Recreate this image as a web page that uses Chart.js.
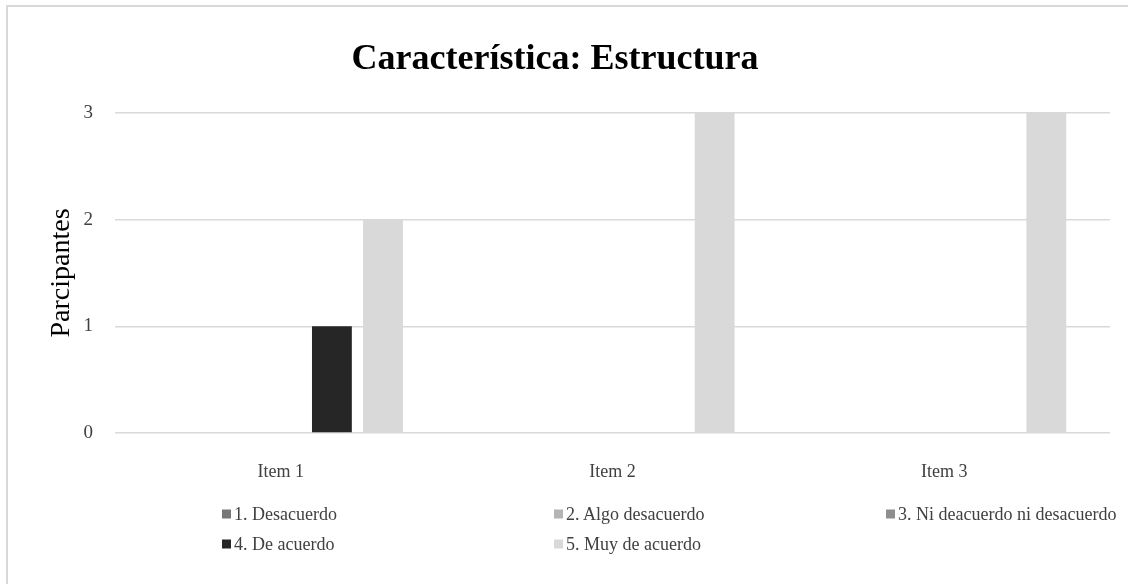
<!DOCTYPE html>
<html>
<head>
<meta charset="utf-8">
<script src="https://cdn.jsdelivr.net/npm/chart.js@4"></script>
<style>
  html, body { margin: 0; padding: 0; background: #fff; }
  #wrap { position: relative; width: 1128px; height: 584px; overflow: hidden; }
  #frame { position: absolute; left: 6px; top: 5px; width: 1140px; height: 600px; border: 2px solid #d9d9d9; box-sizing: border-box; pointer-events: none; }
  #legend { position: absolute; left: 0; top: 0; width: 1128px; height: 584px; pointer-events: none;
    font-family: "Liberation Serif", "Times New Roman", serif; font-size: 18px; color: #404040; }
  .item { position: absolute; display: flex; align-items: center; white-space: nowrap; transform: translateY(-50%); }
  .sw { width: 9px; height: 9px; margin-right: 3px; }
</style>
</head>
<body>
<div id="wrap">
  <canvas id="chart" width="1128" height="584"></canvas>
  <div id="legend"></div>
  <div id="frame"></div>
</div>
<script>
// data
const categories = ["Item 1", "Item 2", "Item 3"];
const seriesNames = [
  "1. Desacuerdo",
  "2. Algo desacuerdo",
  "3. Ni deacuerdo ni desacuerdo",
  "4. De acuerdo",
  "5. Muy de acuerdo",
];
const desacuerdo = [0, 0, 0];
const algoDesacuerdo = [0, 0, 0];
const niDeacuerdo = [0, 0, 0];
const deAcuerdo = [1, 0, 0];
const muyDeAcuerdo = [2, 3, 3];
const yTicks = [0, 1, 2, 3];

const colors = ["#777777", "#b4b4b4", "#8e8e8e", "#262626", "#d9d9d9"];
const values = [desacuerdo, algoDesacuerdo, niDeacuerdo, deAcuerdo, muyDeAcuerdo];

const serif = "'Liberation Serif', 'Times New Roman', serif";

const chart = new Chart(document.getElementById("chart"), {
  type: "bar",
  data: {
    labels: categories,
    datasets: seriesNames.map((name, i) => ({
      label: name,
      data: values[i],
      backgroundColor: colors[i],
      categoryPercentage: 0.77,
      barPercentage: 0.78,
    })),
  },
  options: {
    responsive: false,
    animation: false,
    layout: { padding: { left: 0, right: 18, top: 0, bottom: 101 } },
    plugins: {
      legend: { display: false },
      tooltip: { enabled: false },
      title: {
        display: true,
        text: "Característica: Estructura",
        color: "#000",
        font: { family: serif, size: 36, weight: "bold", lineHeight: 1.2 },
        padding: { top: 38, bottom: 31.8 },
      },
    },
    scales: {
      x: {
        grid: { display: false },
        border: { display: false },
        ticks: {
          color: "#404040",
          padding: 20,
          font: { family: serif, size: 18 },
        },
        afterFit: (scale) => { scale.height = 50; },
      },
      y: {
        min: 0,
        max: 3,
        border: { display: false },
        grid: { color: "#d9d9d9", lineWidth: 1.5, drawTicks: false },
        afterBuildTicks: (scale) => { scale.ticks = yTicks.map((v) => ({ value: v })); },
        ticks: {
          color: "#404040",
          padding: 22,
          font: { family: serif, size: 19 },
        },
        title: {
          display: true,
          text: "Parcipantes",
          color: "#000",
          font: { family: serif, size: 28 },
          padding: { top: 45, bottom: 0 },
        },
        afterFit: (scale) => { scale.width = 115; },
      },
    },
  },
});

// legend laid out in 3 columns like the original
const legendEl = document.getElementById("legend");
chart.data.datasets.forEach((ds, i) => {
  const item = document.createElement("div");
  item.className = "item";
  item.style.left = (222 + (i % 3) * 332) + "px";
  item.style.top = (514 + Math.floor(i / 3) * 30) + "px";
  const sw = document.createElement("span");
  sw.className = "sw";
  sw.style.background = ds.backgroundColor;
  const txt = document.createElement("span");
  txt.textContent = ds.label;
  item.appendChild(sw);
  item.appendChild(txt);
  legendEl.appendChild(item);
});
</script>
</body>
</html>
